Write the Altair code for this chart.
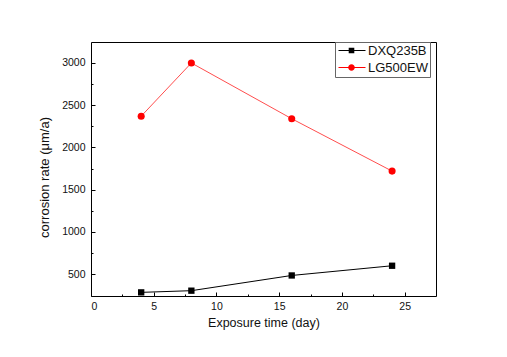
import altair as alt
import pandas as pd

days = [4, 8, 16, 24]
dxq235b = [285, 305, 485, 600]
lg500ew = [2370, 3000, 2340, 1720]
series_names = ["DXQ235B", "LG500EW"]
colors = ["#000000", "#ff0000"]
x_ticks = [0, 5, 10, 15, 20, 25]
x_minor = [2.5, 7.5, 12.5, 17.5, 22.5]
y_ticks = [500, 1000, 1500, 2000, 2500, 3000]
y_minor = [750, 1250, 1750, 2250, 2750]

rows = []
for d, v in zip(days, dxq235b):
    rows.append({"day": d, "rate": v, "series": series_names[0]})
for d, v in zip(days, lg500ew):
    rows.append({"day": d, "rate": v, "series": series_names[1]})
df = pd.DataFrame(rows)

FONT = "Liberation Sans"
xs = alt.Scale(domain=[0, 27.5], nice=False, zero=False)
ys = alt.Scale(domain=[242, 3248], nice=False, zero=False)

def cscale():
    return alt.Scale(domain=series_names, range=colors)

main_x = alt.Axis(values=x_ticks, ticks=False, labelPadding=5, title="Exposure time (day)",
                  titlePadding=5, grid=False, labelFontSize=10.5, titleFontSize=12.5,
                  labelFont=FONT, titleFont=FONT, labelColor="#111", titleColor="#111",
                  titleFontWeight="normal", domainColor="#000", orient="bottom", format="d")
main_y = alt.Axis(values=y_ticks, ticks=False, labelPadding=6, title="corrosion rate (μm/a)",
                  titlePadding=10, grid=False, labelFontSize=10.5, titleFontSize=13,
                  labelFont=FONT, titleFont=FONT, labelColor="#111", titleColor="#111",
                  titleFontWeight="normal", domainColor="#000", orient="left", format="d",
                  titleY=135)
tick_x = alt.Axis(values=x_ticks, labels=False, domain=False, title=None, grid=False,
                  orient="bottom", offset=-4, tickSize=4, tickColor="#000", tickWidth=1)
tick_y = alt.Axis(values=y_ticks, labels=False, domain=False, title=None, grid=False,
                  orient="left", offset=-4, tickSize=4, tickColor="#000", tickWidth=1)
minor_x = alt.Axis(values=x_minor, labels=False, domain=False, title=None, grid=False,
                   orient="bottom", offset=-2, tickSize=2, tickColor="#000", tickWidth=1)
minor_y = alt.Axis(values=y_minor, labels=False, domain=False, title=None, grid=False,
                   orient="left", offset=-2, tickSize=2, tickColor="#000", tickWidth=1)
frame_x = alt.Axis(orient="top", labels=False, ticks=False, title=None, grid=False,
                   domainColor="#000", domainWidth=1)
frame_y = alt.Axis(orient="right", labels=False, ticks=False, title=None, grid=False,
                   domainColor="#000", domainWidth=1)

base = alt.Chart(df)

line = base.mark_line().encode(
    x=alt.X("day:Q", scale=xs, axis=main_x),
    y=alt.Y("rate:Q", scale=ys, axis=main_y),
    color=alt.Color("series:N", scale=cscale(), legend=None),
    strokeWidth=alt.StrokeWidth("series:N", scale=alt.Scale(domain=series_names, range=[1, 0.7]), legend=None),
)

points = base.mark_point(filled=True, opacity=1).encode(
    x=alt.X("day:Q", scale=xs, axis=tick_x),
    y=alt.Y("rate:Q", scale=ys, axis=tick_y),
    color=alt.Color("series:N", scale=cscale(), legend=None),
    shape=alt.Shape("series:N", scale=alt.Scale(domain=series_names, range=["square", "circle"]), legend=None),
    size=alt.Size("series:N", scale=alt.Scale(domain=series_names, range=[40, 50]), legend=None),
)

sq_path = ("M-1,-0.1L4.4,-0.1L4.4,0.1L-1,0.1Z"
           "M1.04,-0.56L2.16,-0.56L2.16,0.56L1.04,0.56Z")
ci_path = ("M-1,-0.1L4.4,-0.1L4.4,0.1L-1,0.1Z"
           "M2.26,0A0.66,0.66 0 1,1 0.94,0A0.66,0.66 0 1,1 2.26,0Z")

legend_layer = base.mark_point(filled=True, opacity=1).encode(
    x=alt.X("day:Q", scale=xs, axis=minor_x),
    y=alt.Y("rate:Q", scale=ys, axis=minor_y),
    color=alt.Color("series:N", scale=cscale(), title=None,
                    legend=alt.Legend(orient="none", legendX=244, legendY=0, title=None,
                                      symbolSize=100, symbolStrokeWidth=0,
                                      labelFont=FONT, labelFontSize=13, labelColor="#111",
                                      strokeColor="#666", fillColor="#fff", padding=2,
                                      rowPadding=3, labelOffset=18, cornerRadius=0)),
    shape=alt.Shape("series:N", scale=alt.Scale(domain=series_names, range=[sq_path, ci_path]), title=None),
).transform_filter("datum.day < 0")

frame = base.mark_point(opacity=0).encode(
    x=alt.X("day:Q", scale=xs, axis=frame_x),
    y=alt.Y("rate:Q", scale=ys, axis=frame_y),
).transform_filter("datum.day < 0")

chart = alt.layer(line, points, legend_layer, frame).resolve_scale(
    color="independent", shape="independent"
).resolve_axis(x="independent", y="independent").properties(
    width=345, height=254,
    autosize=alt.AutoSizeParams(type="none"),
    padding={"left": 91, "top": 42, "right": 71, "bottom": 61},
).configure_view(stroke="#000", strokeWidth=1).configure(background="white")

chart.save("out.html", embed_options={"renderer": "svg", "actions": False})
